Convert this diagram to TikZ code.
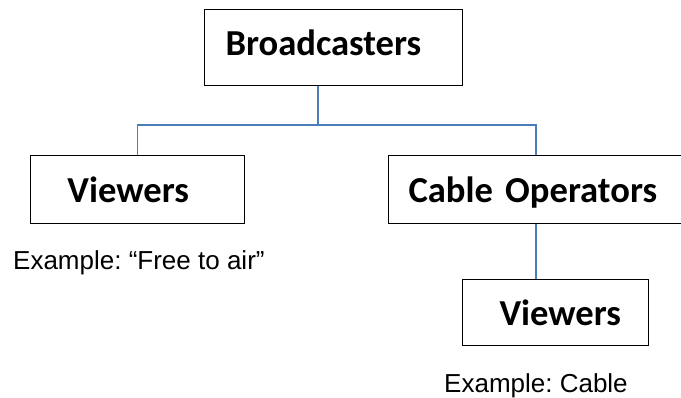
\documentclass[tikz,border=0pt]{standalone}
\usepackage{fontspec}
\newfontfamily\boxfont{Carlito}
\newfontfamily\notefont{Liberation Sans}
\definecolor{linkblue}{RGB}{74,126,187}
\frenchspacing
\tikzset{
  box/.style={draw=black, line width=1pt, inner sep=0pt, align=left, anchor=north west,
    font=\boxfont\bfseries\fontsize{36.6}{40}\selectfont, text height=26pt, text depth=0pt},
  link/.style={draw=linkblue, line width=1.8pt},
  note/.style={inner sep=0pt, anchor=base west, font=\notefont\fontsize{26}{30}\selectfont}
}
\begin{document}
\begin{tikzpicture}[x=1pt,y=-1pt]
  \useasboundingbox (0,0) rectangle (681,398);
  \node[box, text width=258pt, minimum height=76pt, text depth=10pt] (bc) at (204,9) {\hspace*{21pt}Broadcasters};
  \node[box, text width=214pt, minimum height=68pt] (v1) at (30,155) {\hspace*{37pt}Viewers};
  \node[box, text width=295pt, minimum height=68pt] (co) at (388,155) {\hspace*{20pt}\mbox{Cable Operators}};
  \node[box, text width=186pt, minimum height=66pt] (v2) at (462,279) {\hspace*{37pt}Viewers};
  \coordinate (jn) at (318,125);
  \draw[link] (jn |- bc.south) -- (jn);
  \draw[link] (v1.north) |- (jn) -| (co.north);
  \draw[link] (co.south) -- (co.south |- v2.north);
  \node[note] (n1) at (13,270) {Example: “Free to air”};
  \node[note] (n2) at (444,392) {Example: Cable};
\end{tikzpicture}
\end{document}
